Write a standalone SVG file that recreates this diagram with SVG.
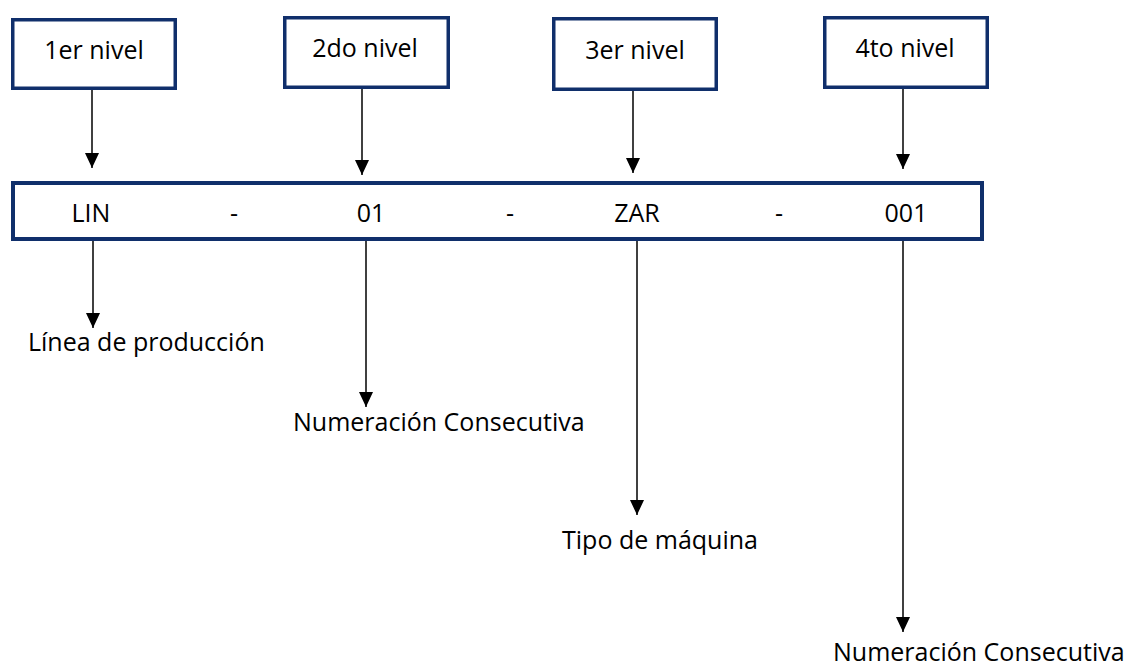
<svg xmlns="http://www.w3.org/2000/svg" width="1133" height="671" viewBox="0 0 1133 671">
  <style>
    .box { fill: #ffffff; stroke: #102f6b; stroke-width: 3.5; }
    .bar { fill: #ffffff; stroke: #102f6b; stroke-width: 4; }
    .lbl { font-family: "Open Sans", "Liberation Sans", sans-serif; font-size: 25px; fill: #000000; }
    .mid { text-anchor: middle; }
    .conn { stroke: #000000; stroke-width: 1.5; fill: none; marker-end: url(#arrow); }
  </style>
  <defs>
    <marker id="arrow" markerUnits="userSpaceOnUse" markerWidth="16" markerHeight="16" refX="15" refY="7" orient="auto">
      <path d="M0,0 L15,7 L0,14 Z" fill="#000000"/>
    </marker>
  </defs>

  <rect width="1133" height="671" fill="#ffffff"/>

  <!-- level boxes -->
  <g id="nivel1">
    <rect class="box" x="12.75" y="19.75" width="162.5" height="68.5"/>
    <text class="lbl mid" x="94" y="59">1er nivel</text>
  </g>
  <g id="nivel2">
    <rect class="box" x="284.75" y="17.75" width="163.5" height="69.5"/>
    <text class="lbl mid" x="365" y="57">2do nivel</text>
  </g>
  <g id="nivel3">
    <rect class="box" x="553.75" y="18.75" width="162.5" height="70.5"/>
    <text class="lbl mid" x="635" y="59">3er nivel</text>
  </g>
  <g id="nivel4">
    <rect class="box" x="824.75" y="17.75" width="162.5" height="69.5"/>
    <text class="lbl mid" x="905" y="57">4to nivel</text>
  </g>

  <!-- code bar -->
  <g id="codigo">
    <rect class="bar" x="13" y="183" width="969" height="56"/>
    <text class="lbl mid" x="91" y="222">LIN</text>
    <text class="lbl mid" x="234" y="222">-</text>
    <text class="lbl mid" x="371" y="222">01</text>
    <text class="lbl mid" x="510" y="222">-</text>
    <text class="lbl mid" x="637" y="222">ZAR</text>
    <text class="lbl mid" x="779" y="222">-</text>
    <text class="lbl mid" x="906" y="222">001</text>
  </g>

  <!-- descriptions -->
  <g id="desc1">
    <text class="lbl" x="28" y="351">Línea de producción</text>
  </g>
  <g id="desc2">
    <text class="lbl" x="293" y="431">Numeración Consecutiva</text>
  </g>
  <g id="desc3">
    <text class="lbl" x="562" y="549">Tipo de máquina</text>
  </g>
  <g id="desc4">
    <text class="lbl" x="833" y="661">Numeración Consecutiva</text>
  </g>

  <!-- connectors -->
  <g id="connectors">
    <line class="conn" x1="92" y1="90" x2="92" y2="168"/>
    <line class="conn" x1="362" y1="89" x2="362" y2="175"/>
    <line class="conn" x1="633" y1="91" x2="633" y2="173"/>
    <line class="conn" x1="903" y1="89" x2="903" y2="169"/>
    <line class="conn" x1="93" y1="241" x2="93" y2="328"/>
    <line class="conn" x1="366" y1="241" x2="366" y2="407"/>
    <line class="conn" x1="637" y1="241" x2="637" y2="515"/>
    <line class="conn" x1="903" y1="241" x2="903" y2="632"/>
  </g>
</svg>
